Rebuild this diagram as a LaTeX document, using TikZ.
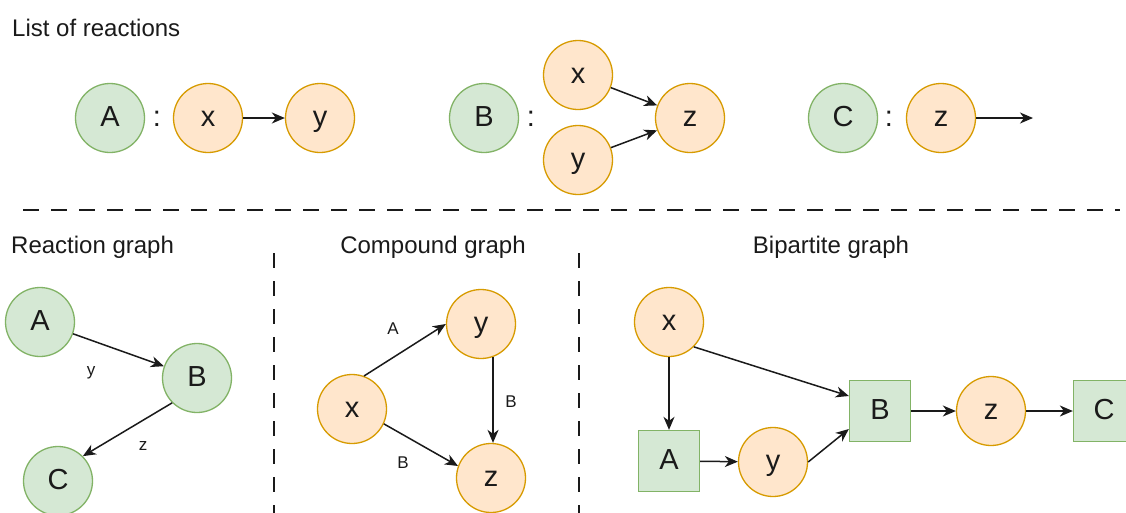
\documentclass[tikz,border=0pt]{standalone}
\usepackage{fontspec}
\setmainfont{Liberation Sans}
\usetikzlibrary{arrows.meta}
\definecolor{gfill}{HTML}{D5E8D4}
\definecolor{gline}{HTML}{82B366}
\definecolor{ofill}{HTML}{FFE6CC}
\definecolor{oline}{HTML}{D79B00}
\definecolor{ink}{HTML}{1A1A1A}
\tikzset{
  base/.style={inner sep=0pt, text=ink, font=\fontsize{29}{32}\selectfont, text height=20pt, text depth=3pt},
  gcirc/.style={base, circle, minimum size=69pt, draw=gline, fill=gfill, line width=1.3pt},
  ocirc/.style={base, circle, minimum size=69pt, draw=oline, fill=ofill, line width=1.3pt},
  gbox/.style={base, rectangle, minimum size=61pt, draw=gline, fill=gfill, line width=1.3pt},
  colon/.style={base},
  title/.style={inner sep=0pt, text=ink, font=\fontsize{24}{27}\selectfont},
  elabel/.style={inner sep=0pt, text=ink, font=\fontsize{17}{20}\selectfont, text height=12pt, text depth=2pt},
  edge/.style={line width=1.5pt, draw=ink, -{Stealth[length=13pt,width=11pt,inset=4pt]}},
  hsep/.style={line width=2pt, draw=ink, dash pattern=on 16pt off 12pt},
  vsep/.style={line width=1.5pt, draw=ink, dash pattern=on 15pt off 13pt}
}
\begin{document}
\begin{tikzpicture}[x=1pt,y=-1pt]
\clip (0,0) rectangle (1126,512);
\fill[white] (0,0) rectangle (1126,512);

% ---------- List of reactions ----------
\node[title, anchor=base west] (t1) at (12,36) {List of reactions};

\node[gcirc] (rA) at (110,118) {A};
\node[colon] (c1) at (157,118) {:};
\node[ocirc] (rAx) at (208,118) {x};
\node[ocirc] (rAy) at (320,118) {y};
\draw[edge] (rAx) -- (rAy);

\node[gcirc] (rB) at (484,118) {B};
\node[colon] (c2) at (531,118) {:};
\node[ocirc] (rBx) at (578,75) {x};
\node[ocirc] (rBy) at (578,160) {y};
\node[ocirc] (rBz) at (690,118) {z};
\draw[edge] (rBx) -- (rBz);
\draw[edge] (rBy) -- (rBz);

\node[gcirc] (rC) at (843,118) {C};
\node[colon] (c3) at (889,118) {:};
\node[ocirc] (rCz) at (941,118) {z};
\coordinate (rCend) at (1033,118);
\draw[edge] (rCz) -- (rCend);

% ---------- separators ----------
\coordinate (h1) at (23,210);
\coordinate (h2) at (1120,210);
\draw[hsep] (h1) -- (h2);
\coordinate (v1a) at (274,253);
\coordinate (v1b) at (274,520);
\coordinate (v2a) at (579,253);
\coordinate (v2b) at (579,520);
\draw[vsep] (v1a) -- (v1b);
\draw[vsep] (v2a) -- (v2b);

% ---------- Reaction graph ----------
\node[title, anchor=base west] (t2) at (11,253) {Reaction graph};
\node[gcirc] (gA) at (40,322) {A};
\node[gcirc] (gB) at (197,378) {B};
\node[gcirc] (gC) at (58,481) {C};
\draw[edge] (gA) -- (gB);
\draw[edge] (gB.-135) -- (gC.45);
\node[elabel] (ly) at (91,370) {y};
\node[elabel] (lz) at (143,445) {z};

% ---------- Compound graph ----------
\node[title, anchor=base] (t3) at (433,253) {Compound graph};
\node[ocirc] (cy) at (481,324) {y};
\node[ocirc] (cx) at (352,409) {x};
\node[ocirc] (cz) at (491,478) {z};
\draw[edge] (cx.70) -- (cy.west);
\draw[edge] (cx.-25) -- (cz.160);
\coordinate (cyz) at (cy.-70);
\draw[edge] (cyz) -- (cyz |- cz.north);
\node[elabel] (lA) at (393,329) {A};
\node[elabel] (lB1) at (511,402) {B};
\node[elabel] (lB2) at (403,463) {B};

% ---------- Bipartite graph ----------
\node[title, anchor=base] (t4) at (831,253) {Bipartite graph};
\node[ocirc] (bx) at (669,322) {x};
\node[gbox] (bA) at (669,461) {A};
\node[ocirc] (by) at (773,462) {y};
\node[gbox] (bB) at (880,411) {B};
\node[ocirc] (bz) at (991,411) {z};
\node[gbox] (bC) at (1104,411) {C};
\draw[edge] (bx) -- (bA);
\draw[edge] (bx.-45) -- ([yshift=15pt]bB.west);
\draw[edge] (bA) -- (by);
\draw[edge] (by.east) -- ([yshift=-18pt]bB.west);
\draw[edge] (bB) -- (bz);
\draw[edge] (bz) -- (bC);
\end{tikzpicture}
\end{document}
